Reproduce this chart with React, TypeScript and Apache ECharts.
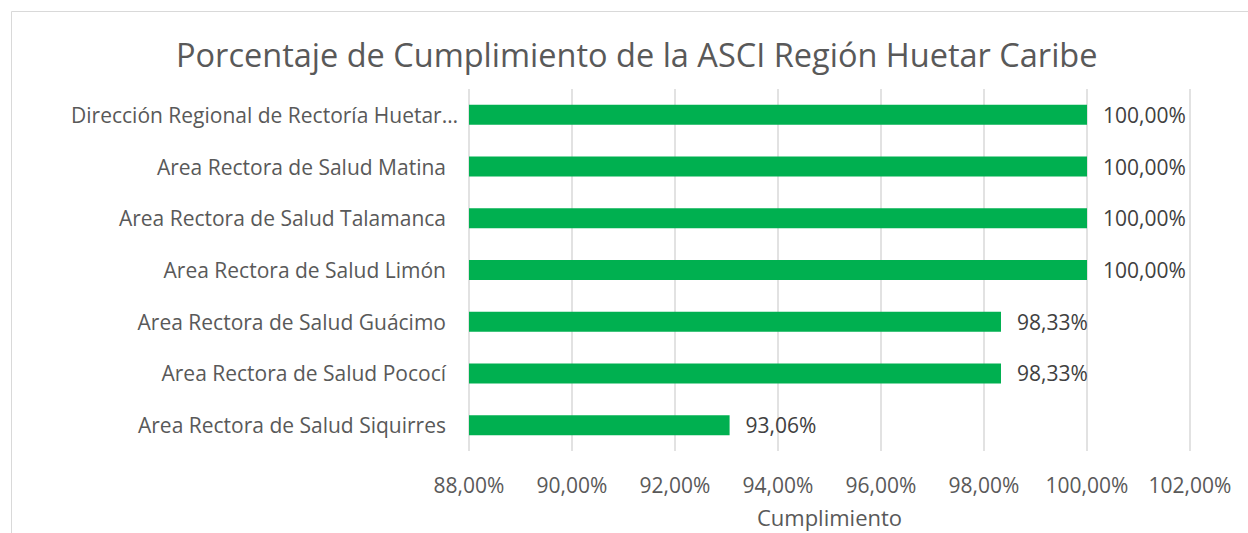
import React, { useEffect, useRef } from "react";
import * as echarts from "echarts";

const categories = [
  "Dirección Regional de Rectoría Huetar…",
  "Area Rectora de Salud Matina",
  "Area Rectora de Salud Talamanca",
  "Area Rectora de Salud Limón",
  "Area Rectora de Salud Guácimo",
  "Area Rectora de Salud Pococí",
  "Area Rectora de Salud Siquirres",
];
const values = [100, 100, 100, 100, 98.33, 98.33, 93.06];
const axisMin = 88;
const axisMax = 102;
const axisStep = 2;

const fmt = (v: number) => v.toFixed(2).replace(".", ",") + "%";
const FONT = "'Open Sans', sans-serif";

export default function App() {
  const ref = useRef<HTMLDivElement>(null);
  useEffect(() => {
    document.body.style.margin = "0";
    const chart = echarts.init(ref.current!, null, { renderer: "svg" });
    const labelStyle = { fontFamily: FONT, fontSize: 21, color: "#595959" };
    chart.setOption({
      animation: false,
      backgroundColor: "#ffffff",
      textStyle: { fontFamily: FONT },
      title: {
        text: "Porcentaje de Cumplimiento de la ASCI Región Huetar Caribe",
        left: 171,
        top: 33,
        textStyle: { fontFamily: FONT, fontSize: 32.5, fontWeight: "normal", color: "#595959" },
      },
      graphic: [
        {
          type: "rect",
          shape: { x: 11.5, y: 11.5, width: 1400, height: 800 },
          style: { fill: "none", stroke: "#d9d9d9", lineWidth: 1 },
          silent: true,
        },
      ],
      grid: { left: 469, right: 58, top: 89, bottom: 80 },
      xAxis: {
        type: "value",
        min: axisMin,
        max: axisMax,
        interval: axisStep,
        name: "Cumplimiento",
        nameLocation: "middle",
        nameGap: 55,
        nameTextStyle: { fontFamily: FONT, fontSize: 22, color: "#595959" },
        axisLine: { show: false },
        axisTick: { show: false },
        axisLabel: { formatter: (v: number) => fmt(v), fontFamily: FONT, fontSize: 21, color: "#595959", margin: 23 },
        splitLine: { show: true, lineStyle: { color: "#d9d9d9", width: 1.5 } },
      },
      yAxis: {
        type: "category",
        data: categories,
        inverse: true,
        axisLine: { show: false },
        axisTick: { show: false },
        axisLabel: {
          ...labelStyle,
          margin: 11,
          formatter: (v: string, i: number) => (i === 0 ? `{f|${v}}` : `{n|${v}}`),
          rich: {
            f: { ...labelStyle, padding: [0, 0, 0, 0] },
            n: { ...labelStyle, padding: [0, 12, 0, 0] },
          },
        },
      },
      series: [
        {
          type: "bar",
          data: values,
          barWidth: 20,
          itemStyle: { color: "#00B050" },
          label: {
            show: true,
            position: "right",
            distance: 16,
            formatter: (p: any) => fmt(p.value),
            fontFamily: FONT,
            fontSize: 21,
            color: "#404040",
          },
        },
      ],
    });
    return () => chart.dispose();
  }, []);
  return <div ref={ref} style={{ width: 1248, height: 533 }} />;
}
